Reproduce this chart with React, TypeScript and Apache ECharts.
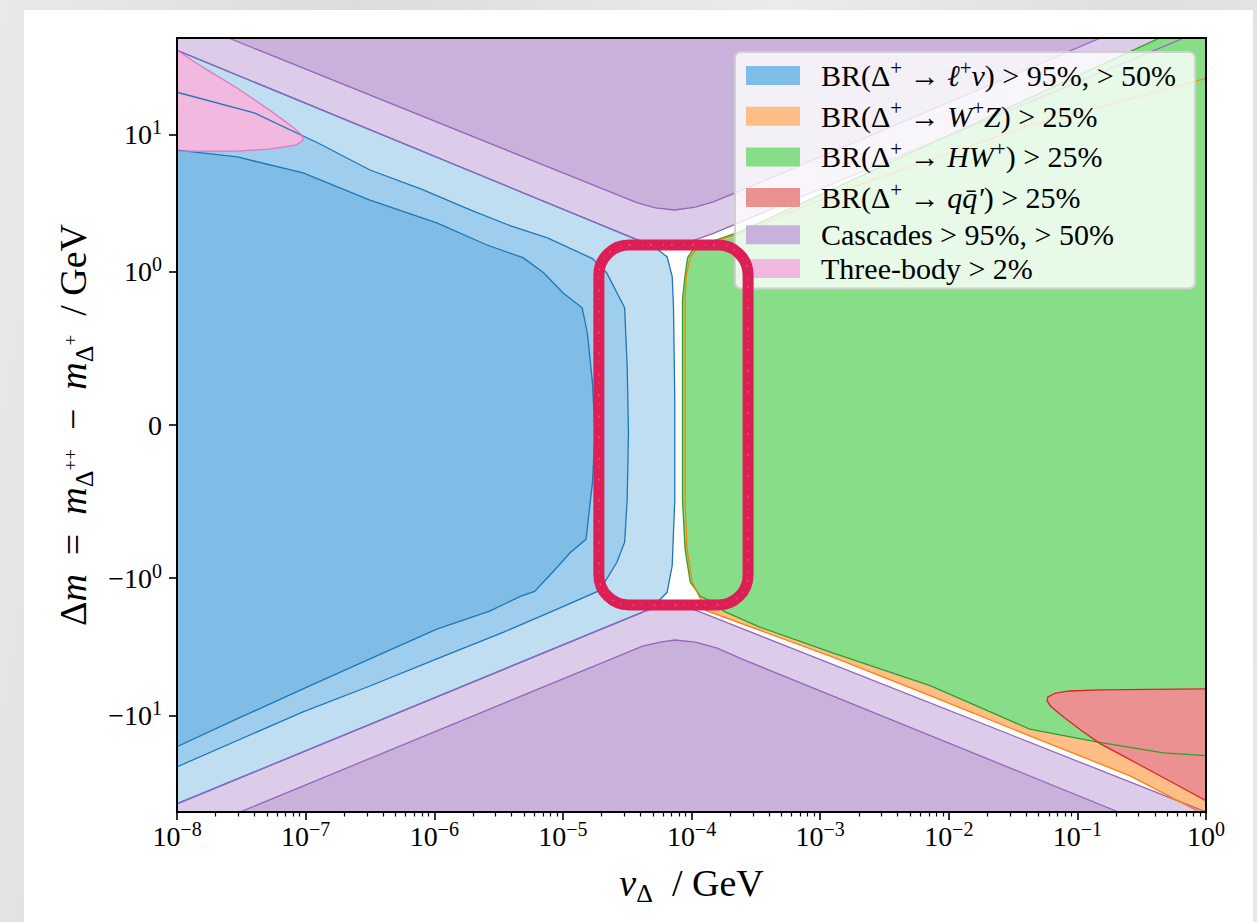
import React, { useEffect, useRef } from "react";
import * as echarts from "echarts";

type Pt = [number, number]; // [log10(v_Delta / GeV), Δm / GeV]

const FONT = "'Liberation Serif', 'DejaVu Serif', serif";

// ---------- axes ----------
const X_EXP_MIN = -8;
const X_EXP_MAX = 0;
const DM_MAX = 50;
const xMajorExps = [-8, -7, -6, -5, -4, -3, -2, -1, 0];
const xMinorMultipliers = [2, 3, 4, 5, 6, 7, 8, 9];
const yTickValues = [-10, -1, 0, 1, 10];
const yTickLabels = ["{b|−10}{s|1}", "{b|−10}{s|0}", "{b|0}", "{b|10}{s|0}", "{b|10}{s|1}"];

// ---------- contour regions: [log10 v, Δm] ----------
const cascadesLooseTop: Pt[] = [[-8, 40.7], [-4.42, 1.71], [-4.28, 1.63], [-4.15, 1.6], [-4.01, 1.66], [-3.83, 1.91], [-0.17, 50]];
const cascadesLooseTopClose: Pt[] = [[-8, 50]];
const cascadesStrictTop: Pt[] = [[-7.6, 50], [-4.42, 3.17], [-4.28, 2.92], [-4.13, 2.82], [-3.97, 2.96], [-3.83, 3.23], [-3.66, 3.75], [-0.82, 50]];
const cascadesLooseBottom: Pt[] = [[-8, -43.6], [-4.38, -1.77], [-4.24, -1.6], [-4.15, -1.57], [-4.01, -1.66], [-3.89, -1.83], [0, -50]];
const cascadesLooseBottomClose: Pt[] = [[-8, -50]];
const cascadesStrictBottom: Pt[] = [[-7.51, -50], [-4.38, -3.12], [-4.24, -2.92], [-4.13, -2.82], [-3.97, -2.92], [-3.8, -3.23], [-3.61, -3.87], [-0.68, -50]];

const lnuLoose: Pt[] = [[-8, 40.7], [-4.42, 1.71], [-4.3, 1.55], [-4.19, 1.29], [-4.15, 0.97], [-4.14, 0.77], [-4.13, 0.17], [-4.13, -0.49], [-4.14, -0.7], [-4.15, -0.92], [-4.19, -1.27], [-4.24, -1.42], [-4.3, -1.58], [-4.38, -1.77], [-8, -43.6]];
const lnuMid: Pt[] = [[-8, 20.2], [-7.4, 14.3], [-6.9, 8.6], [-6.5, 5.5], [-6.1, 4.0], [-5.72, 2.82], [-5.4, 2.15], [-5.12, 1.77], [-4.77, 1.25], [-4.66, 0.995], [-4.52, 0.766], [-4.5, 0.382], [-4.49, -0.049], [-4.5, -0.486], [-4.52, -0.766], [-4.58, -0.897], [-4.66, -1.02], [-4.73, -1.25], [-5.08, -1.74], [-5.46, -2.47], [-5.98, -3.87], [-6.5, -6.08], [-7.02, -9.38], [-8, -23.5]];
const lnuStrict: Pt[] = [[-8, 7.67], [-7.53, 6.84], [-7.02, 5.24], [-6.5, 3.33], [-5.98, 2.27], [-5.59, 1.57], [-5.31, 1.27], [-5.15, 0.995], [-5.0, 0.864], [-4.85, 0.766], [-4.81, 0.603], [-4.77, 0.277], [-4.75, -0.049], [-4.77, -0.375], [-4.82, -0.747], [-4.94, -0.832], [-5.08, -0.962], [-5.22, -1.25], [-5.33, -1.36], [-5.57, -1.74], [-5.98, -2.35], [-6.5, -3.87], [-7.02, -6.39], [-7.53, -10.5], [-8, -16.8]];

const threeBody: Pt[] = [[-8, 40.7], [-7.8, 30.7], [-7.53, 21.6], [-7.28, 15.0], [-7.1, 11.3], [-7.03, 9.86], [-7.02, 9.08], [-7.07, 8.36], [-7.28, 7.81], [-7.53, 7.55], [-8, 7.55]];

const wzLine: Pt[] = [[0, 25.5], [-0.82, 15.8], [-1.41, 11.3], [-2.81, 3.94], [-3.63, 1.9], [-3.83, 1.66], [-3.92, 1.55], [-3.97, 1.44], [-4.01, 1.27], [-4.04, 0.98], [-4.05, 0.82], [-4.05, 0.38], [-4.05, -0.49], [-4.035, -0.81], [-3.995, -1.07], [-3.95, -1.3], [-3.89, -1.72], [-2.92, -3.69], [-2.14, -7.18], [-1.37, -14.0], [-0.59, -27.3], [-0.1, -47.3], [-0.05, -50]];
const wzClose: Pt[] = [[0, -50]];

const hwLine: Pt[] = [[-0.36, 50], [-3.63, 1.95], [-3.83, 1.68], [-3.93, 1.57], [-3.99, 1.45], [-4.03, 1.27], [-4.05, 0.98], [-4.07, 0.82], [-4.07, 0.38], [-4.07, -0.49], [-4.05, -0.81], [-4.01, -1.07], [-3.93, -1.36], [-3.83, -1.5], [-3.75, -1.74], [-3.47, -2.27], [-2.92, -3.45], [-2.14, -6.08], [-1.37, -12.5], [-0.85, -15.5], [-0.33, -18.6], [0, -19.5]];
const hwClose: Pt[] = [[0, 50]];

const qqLine: Pt[] = [[0, -6.39], [-0.43, -6.44], [-0.82, -6.5], [-1.06, -6.61], [-1.17, -6.84], [-1.23, -7.31], [-1.235, -7.81], [-1.21, -8.49], [-1.13, -9.84], [-0.98, -12.6], [-0.82, -16.0], [-0.63, -19.9], [-0.43, -25.1], [-0.2, -32.8], [0, -41.4]];

// highlighted box (annotation) corners
const annotationBox: Pt[] = [[-4.72, 1.57], [-3.56, -1.57]];

// ---------- legend ----------
const legendNames = ["lnu", "wz", "hw", "qq", "casc", "three"];
const legendColors = ["#7fbce6", "#ffbe86", "#88de88", "#eb9191", "#c8b2dc", "#f1b8e0"];
const legendLabels = [
  "{n|BR(Δ}{s|+}{n| → }{i|ℓ}{s|+}{i|ν}{n|) > 95%, > 50%}",
  "{n|BR(Δ}{s|+}{n| → }{i|W}{s|+}{i|Z}{n|) > 25%}",
  "{n|BR(Δ}{s|+}{n| → }{i|HW}{s|+}{n|) > 25%}",
  "{n|BR(Δ}{s|+}{n| → }{i|qq̄′}{n|) > 25%}",
  "{n|Cascades > 95%, > 50%}",
  "{n|Three-body > 2%}",
];

const LIN = 1 / (1 - 0.1);
function symlog(y: number): number {
  const a = Math.abs(y);
  return a <= 1 ? y * LIN : Math.sign(y) * (LIN + Math.log10(a));
}

type Region = { name: string; line: Pt[]; close: Pt[]; fill: string; stroke: string };

const fillRegions: Region[] = [
  { name: "casc", line: cascadesLooseTop, close: cascadesLooseTopClose, fill: "#dccbe9", stroke: "#9467bd" },
  { name: "casc", line: cascadesStrictTop, close: [], fill: "#c8b2dc", stroke: "#9467bd" },
  { name: "casc", line: cascadesLooseBottom, close: cascadesLooseBottomClose, fill: "#dccbe9", stroke: "#9467bd" },
  { name: "casc", line: cascadesStrictBottom, close: [], fill: "#c8b2dc", stroke: "#9467bd" },
  { name: "lnu", line: lnuLoose, close: [], fill: "#bfdef2", stroke: "#1f77b4" },
  { name: "lnu", line: lnuMid, close: [], fill: "#9fcdee", stroke: "#1f77b4" },
  { name: "lnu", line: lnuStrict, close: [], fill: "#7fbce6", stroke: "#1f77b4" },
  { name: "three", line: threeBody, close: [], fill: "#f1b8e0", stroke: "#e377c2" },
  { name: "wz", line: wzLine, close: wzClose, fill: "#ffbe86", stroke: "#ff7f0e" },
  { name: "hw", line: hwLine, close: hwClose, fill: "#88de88", stroke: "#2ca02c" },
  { name: "qq", line: qqLine, close: [], fill: "#eb9191", stroke: "#d62728" },
];
const strokeOrder = [4, 5, 6, 0, 1, 2, 3, 7, 9, 8, 10];

function regionSeries(r: Region, mode: "fill" | "line", order: number) {
  return {
    type: "custom",
    name: mode === "fill" ? r.name : r.name + "-line",
    coordinateSystem: "cartesian2d",
    clip: true,
    silent: true,
    z: mode === "fill" ? 2 : 3,
    data: [[r.line[0][0], symlog(r.line[0][1])]],
    renderItem: (_p: any, api: any) => {
      const c = (p: Pt) => api.coord([p[0], symlog(p[1])]);
      if (mode === "fill") {
        return {
          type: "polygon",
          z2: order,
          shape: { points: r.line.concat(r.close).map(c) },
          style: { fill: r.fill, stroke: "none" },
        };
      }
      return {
        type: "polyline",
        z2: order,
        shape: { points: r.line.map(c) },
        style: { stroke: r.stroke, lineWidth: 1.3, fill: "none" },
      };
    },
  };
}

function buildOption(): any {
  const YT = symlog(DM_MAX);
  const yTickPos = yTickValues.map(symlog);
  const minor: number[] = [];
  xMajorExps.slice(0, -1).forEach((e) => xMinorMultipliers.forEach((m) => minor.push(e + Math.log10(m))));

  const series: any[] = [];
  fillRegions.forEach((r, i) => series.push(regionSeries(r, "fill", i)));
  strokeOrder.forEach((idx, i) => series.push(regionSeries(fillRegions[idx], "line", i)));
  series.push({
    type: "custom",
    name: "annotation",
    coordinateSystem: "cartesian2d",
    silent: true,
    z: 10,
    data: [[annotationBox[0][0], symlog(annotationBox[0][1])]],
    renderItem: (_p: any, api: any) => {
      const a = api.coord([annotationBox[0][0], symlog(annotationBox[0][1])]);
      const b = api.coord([annotationBox[1][0], symlog(annotationBox[1][1])]);
      const w = b[0] - a[0];
      const h = b[1] - a[1];
      return {
        type: "group",
        children: [
          {
            type: "rect",
            shape: { x: a[0], y: a[1], width: w, height: h, r: 30 },
            style: { fill: "none", stroke: "#dc1f54", lineWidth: 11 },
          },
          {
            type: "rect",
            shape: { x: a[0] - 3, y: a[1] - 3, width: w + 6, height: h + 6, r: 33 },
            style: { fill: "none", stroke: "#dc1f54", lineWidth: 2, lineDash: [3, 9, 8, 5] },
          },
          {
            type: "rect",
            shape: { x: a[0] + 3, y: a[1] + 3, width: w - 6, height: h - 6, r: 27 },
            style: { fill: "none", stroke: "#dc1f54", lineWidth: 2, lineDash: [6, 5, 2, 8] },
          },
          {
            type: "rect",
            shape: { x: a[0], y: a[1], width: w, height: h, r: 30 },
            style: { fill: "none", stroke: "#e8547a", lineWidth: 1.5, lineDash: [2, 11, 1, 7] },
          },
        ],
      };
    },
  });

  const tickRich = {
    b: { fontSize: 28, fontFamily: FONT, color: "#000", lineHeight: 31 },
    s: { fontSize: 20, fontFamily: FONT, color: "#000", lineHeight: 20, padding: [0, 0, 15, 0] },
  };
  const nameRich = {
    n: { fontSize: 38, fontFamily: FONT, color: "#000", lineHeight: 43 },
    i: { fontSize: 38, fontFamily: FONT, color: "#000", lineHeight: 43, fontStyle: "italic" },
    sub: { fontSize: 26, fontFamily: FONT, color: "#000", lineHeight: 26, padding: [22, 0, 0, 0] },
    ss: { fontSize: 19, fontFamily: FONT, color: "#000", lineHeight: 19, padding: [0, 0, 6, 0] },
  };

  return {
    animation: false,
    grid: {
      left: 177, top: 38, width: 1029, height: 774,
      show: true, borderColor: "#000", borderWidth: 2, backgroundColor: "transparent", z: 6,
    },
    xAxis: [
      {
        type: "value", min: X_EXP_MIN, max: X_EXP_MAX, interval: 1, z: 6,
        axisLine: { show: true, onZero: false, lineStyle: { color: "#000", width: 2 } },
        axisTick: { show: true, length: 8, lineStyle: { color: "#000", width: 1.6 } },
        splitLine: { show: false },
        axisLabel: {
          margin: 9, color: "#000",
          formatter: (v: number) => "{b|10}{s|" + (v === 0 ? "0" : "−" + Math.abs(v)) + "}",
          rich: tickRich,
        },
        name: "{i|v}{sub|Δ}{n|  / GeV}",
        nameLocation: "middle", nameGap: 38,
        nameTextStyle: { rich: nameRich },
      },
      {
        type: "value", min: X_EXP_MIN, max: X_EXP_MAX, position: "bottom", z: 6,
        axisLine: { show: false, onZero: false },
        axisTick: { show: true, length: 4.5, customValues: minor, lineStyle: { color: "#000", width: 1.2 } },
        axisLabel: { show: false },
        splitLine: { show: false },
      },
    ],
    yAxis: {
      type: "value", min: -YT, max: YT, z: 6,
      axisLine: { show: true, onZero: false, lineStyle: { color: "#000", width: 2 } },
      axisTick: { show: true, length: 8, customValues: yTickPos, lineStyle: { color: "#000", width: 1.6 } },
      splitLine: { show: false },
      axisLabel: {
        margin: 15, color: "#000", customValues: yTickPos,
        formatter: (v: number) => {
          const i = yTickPos.findIndex((t) => Math.abs(t - v) < 1e-6);
          return i >= 0 ? yTickLabels[i] : "";
        },
        rich: tickRich,
      },
      name: "{n|Δ}{i|m}{n|  =  }{i|m}{sub|Δ}{ss|++}{n|  −  }{i|m}{sub|Δ}{ss|+}{n|  / GeV}",
      nameLocation: "middle", nameGap: 76, nameRotate: 90,
      nameTextStyle: { rich: nameRich },
    },
    legend: {
      show: true, orient: "vertical", left: 735, top: 52, selectedMode: false,
      itemWidth: 54, itemHeight: 19, itemGap: 3.7, padding: [5, 19, 5, 11],
      backgroundColor: "rgba(255,255,255,0.8)", borderColor: "#d0d0d0", borderWidth: 2, borderRadius: 6,
      z: 8,
      data: legendNames.map((n, i) => ({ name: n, icon: "rect", itemStyle: { color: legendColors[i], borderWidth: 0 } })),
      formatter: (name: string) => legendLabels[legendNames.indexOf(name)],
      textStyle: {
        padding: [0, 0, 0, 16],
        rich: {
          n: { fontSize: 30, fontFamily: FONT, color: "#000", lineHeight: 33 },
          i: { fontSize: 30, fontFamily: FONT, color: "#000", lineHeight: 33, fontStyle: "italic" },
          s: { fontSize: 21, fontFamily: FONT, color: "#000", lineHeight: 21, padding: [0, 0, 16, 0] },
        },
      },
    },
    series,
  };
}

export default function App() {
  const ref = useRef<HTMLDivElement>(null);
  useEffect(() => {
    if (!ref.current) return;
    const chart = echarts.init(ref.current, undefined, { renderer: "svg" });
    chart.setOption(buildOption());
    return () => chart.dispose();
  }, []);
  return (
    <div
      style={{
        position: "fixed", left: 0, top: 0, width: 1257, height: 922, overflow: "hidden",
        background: "linear-gradient(100deg, #e9e9e9 0%, #dcdcdc 25%, #ebebeb 55%, #dfdfdf 80%, #e8e8e8 100%)",
      }}
    >
      <div style={{ position: "absolute", left: 24, top: 10, width: 1229, height: 920, background: "#fff" }} />
      <div ref={ref} style={{ position: "absolute", left: 0, top: 0, width: 1257, height: 922 }} />
    </div>
  );
}
